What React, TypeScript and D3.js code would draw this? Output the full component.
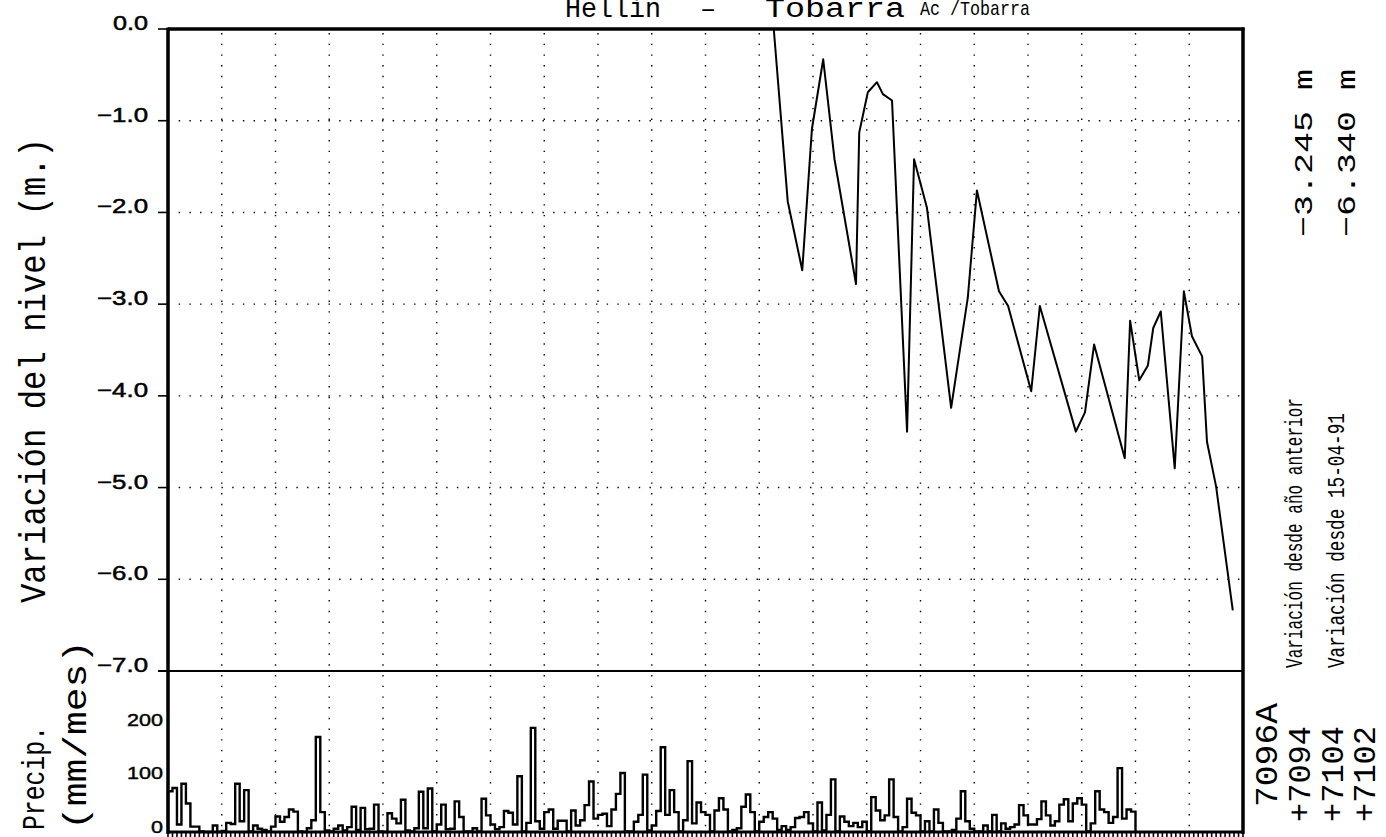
import React from 'react'
import * as d3 from 'd3'

// monthly precipitation (mm/mes), Jan 1980 .. Dec 1997
const precipStart = 1980
const precip = [
  76, 82, 14, 90, 53, 10, 10, 1, 0, 0, 12, 0,
  2, 17, 15, 90, 20, 78, 1, 12, 6, 4, 1, 10,
  29, 19, 28, 42, 38, 1, 0, 7, 22, 177, 37, 3,
  1, 6, 12, 3, 9, 47, 4, 45, 5, 6, 51, 1,
  0, 35, 25, 16, 60, 3, 1, 7, 75, 7, 81, 1,
  14, 51, 5, 6, 57, 28, 1, 1, 7, 1, 62, 31,
  14, 5, 9, 39, 36, 14, 104, 1, 17, 194, 20, 6,
  37, 42, 6, 21, 21, 1, 40, 12, 22, 50, 94, 25,
  32, 34, 11, 42, 71, 110, 1, 1, 19, 32, 107, 3,
  12, 39, 158, 32, 78, 37, 1, 22, 132, 16, 55, 37,
  32, 1, 40, 63, 42, 1, 4, 7, 47, 70, 37, 1,
  19, 28, 37, 25, 4, 11, 4, 9, 26, 28, 37, 16,
  1, 55, 3, 32, 98, 1, 29, 19, 11, 17, 9, 19,
  1, 65, 40, 22, 31, 98, 28, 1, 9, 62, 36, 31,
  1, 20, 1, 42, 17, 1, 1, 4, 25, 76, 20, 6,
  1, 1, 12, 1, 32, 1, 16, 6, 9, 14, 50, 31,
  14, 14, 24, 57, 31, 12, 20, 51, 61, 20, 53, 63,
  51, 1, 16, 76, 42, 37, 17, 28, 119, 25, 42, 38,
]

// water level change (m) since 15-04-91, dates as decimal years
const levelDates = [
  1991.27, 1991.53, 1991.80, 1991.98, 1992.19, 1992.40, 1992.80, 1992.86,
  1993.02, 1993.19, 1993.30, 1993.47, 1993.75, 1993.88, 1994.03, 1994.12,
  1994.57, 1994.88, 1995.05, 1995.46, 1995.63, 1996.06, 1996.22, 1996.89,
  1997.06, 1997.23, 1997.80, 1997.90, 1998.07, 1998.23, 1998.33, 1998.47,
  1998.73, 1998.90, 1999.05, 1999.24, 1999.33, 1999.50, 1999.81,
]
const levels = [
  0, -1.88, -2.63, -1.09, -0.33, -1.42, -2.78, -1.13,
  -0.69, -0.58, -0.71, -0.78, -4.39, -1.42, -1.75, -1.95,
  -4.13, -2.93, -1.76, -2.86, -3.02, -3.95, -3.02, -4.39,
  -4.18, -3.44, -4.68, -3.18, -3.83, -3.67, -3.26, -3.08,
  -4.79, -2.86, -3.35, -3.57, -4.50, -4.99, -6.34,
]

const levelTicks = [0, -1, -2, -3, -4, -5, -6, -7]
const precipTicks = [0, 100, 200]
const years = d3.range(1980, 2001)

const mono = '"Courier New", "Liberation Mono", monospace'
const sans = '"Liberation Sans", Arial, sans-serif'

export default function App() {
  const W = 1386, H = 837
  const left = 168, right = 1243, top = 29, mid = 671, bottom = 832

  const x = d3.scaleLinear().domain([1980, 2000]).range([left, right])
  const yLev = d3.scaleLinear().domain([-7, 0]).range([mid, top])
  const yPre = d3.scaleLinear().domain([0, 300]).range([bottom, mid])

  const linePath = d3.line<number>()
    .x((d, i) => x(levelDates[i]))
    .y(d => yLev(d))(levels)

  const steps = precip.map((v, i) => [precipStart + i / 12, v] as [number, number])
  steps.unshift([precipStart, 0])
  steps.push([precipStart + precip.length / 12, 0])
  const stepPath = d3.line<[number, number]>()
    .x(d => x(d[0]))
    .y(d => yPre(d[1]))
    .curve(d3.curveStepAfter)(steps)

  const months = d3.range(0, 241)

  return (
    <svg width={W} height={H} style={{ position: 'absolute', left: 0, top: 0, background: '#fff' }}>
      {/* title (top cut off in the scan) */}
      <g fontFamily={mono} fill="#000">
        <text x={565} y={17} fontSize={27} textLength={96} lengthAdjust="spacingAndGlyphs">Hellín</text>
        <text x={700} y={17} fontSize={27}>–</text>
        <text x={765} y={17} fontSize={27} textLength={140} lengthAdjust="spacingAndGlyphs">Tobarra</text>
        <text x={920} y={15} fontSize={21} textLength={110} lengthAdjust="spacingAndGlyphs">Ac /Tobarra</text>
      </g>

      {/* dotted grid */}
      <g stroke="#000" strokeWidth={1.4} strokeDasharray="1.4 9.3">
        {years.slice(1, -1).map(y => (
          <line key={'v' + y} x1={x(y)} x2={x(y)} y1={top + 4} y2={bottom} />
        ))}
        {levelTicks.slice(1, -1).map(v => (
          <line key={'h' + v} x1={left} x2={right} y1={yLev(v)} y2={yLev(v)} />
        ))}
      </g>

      {/* monthly ticks on bottom axis */}
      <g stroke="#000" strokeWidth={1.6}>
        {months.map(m => (
          <line key={m} x1={x(1980 + m / 12)} x2={x(1980 + m / 12)} y1={bottom} y2={bottom + 5} />
        ))}
      </g>

      {/* frame */}
      <g stroke="#000" fill="none">
        <line x1={left} x2={right + 1.5} y1={top} y2={top} strokeWidth={3.5} />
        <line x1={left} x2={left} y1={top - 1.5} y2={bottom + 2} strokeWidth={3.5} />
        <line x1={right} x2={right} y1={top - 1.5} y2={bottom + 2} strokeWidth={3.5} />
        <line x1={left - 10} x2={right} y1={mid} y2={mid} strokeWidth={2.2} />
        <line x1={left} x2={right} y1={bottom} y2={bottom} strokeWidth={3} />
        {levelTicks.slice(0, -1).map(v => (
          <line key={v} x1={left - 10} x2={left} y1={yLev(v)} y2={yLev(v)} strokeWidth={1.6} />
        ))}
      </g>

      {/* level tick labels */}
      <g fontFamily={sans} fontSize={20} fill="#000" stroke="#000" strokeWidth={0.5} textAnchor="end">
        {levelTicks.map(v => (
          <text key={v} x={148} y={yLev(v) + 1}
            textLength={v === 0 ? 35 : 51} lengthAdjust="spacingAndGlyphs">
            {v === 0 ? '0.0' : '−' + Math.abs(v).toFixed(1)}
          </text>
        ))}
      </g>
      <g fontFamily={sans} fontSize={17} fill="#000" stroke="#000" strokeWidth={0.4} textAnchor="end">
        {precipTicks.map(v => (
          <text key={v} x={163} y={yPre(v) + 1}
            textLength={v === 0 ? 12 : 36} lengthAdjust="spacingAndGlyphs">{v}</text>
        ))}
      </g>

      {/* series */}
      <path d={stepPath ?? ''} fill="none" stroke="#000" strokeWidth={2.4} />
      <path d={linePath ?? ''} fill="none" stroke="#000" strokeWidth={2} strokeLinejoin="round" />

      {/* axis titles */}
      <g fontFamily={mono} fill="#000">
        <text transform="translate(45,603) rotate(-90)" fontSize={36}
          textLength={465} lengthAdjust="spacingAndGlyphs">Variación del nivel (m.)</text>
        <text transform="translate(44,830) rotate(-90)" fontSize={32}
          textLength={104} lengthAdjust="spacingAndGlyphs">Precip.</text>
        <text transform="translate(86,830) rotate(-90)" fontSize={34}
          textLength={190} lengthAdjust="spacingAndGlyphs">(mm/mes)</text>
      </g>

      {/* right side annotations */}
      <g fontFamily={mono} fill="#000">
        <text transform="translate(1302,668) rotate(-90)" fontSize={23}
          textLength={270} lengthAdjust="spacingAndGlyphs">Variación desde año anterior</text>
        <text transform="translate(1312,237) rotate(-90)" fontSize={26}
          textLength={168} lengthAdjust="spacingAndGlyphs">−3.245 m</text>
        <text transform="translate(1344,668) rotate(-90)" fontSize={23}
          textLength={255} lengthAdjust="spacingAndGlyphs">Variación desde 15-04-91</text>
        <text transform="translate(1355,237) rotate(-90)" fontSize={26}
          textLength={168} lengthAdjust="spacingAndGlyphs">−6.340 m</text>
      </g>
      <g fontFamily={mono} fill="#000" fontSize={32}>
        <text transform="translate(1277,807) rotate(-90)" textLength={104} lengthAdjust="spacingAndGlyphs">7096A</text>
        <text transform="translate(1310,822) rotate(-90)" textLength={96} lengthAdjust="spacingAndGlyphs">+7094</text>
        <text transform="translate(1343,822) rotate(-90)" textLength={96} lengthAdjust="spacingAndGlyphs">+7104</text>
        <text transform="translate(1375,822) rotate(-90)" textLength={96} lengthAdjust="spacingAndGlyphs">+7102</text>
      </g>
    </svg>
  )
}
